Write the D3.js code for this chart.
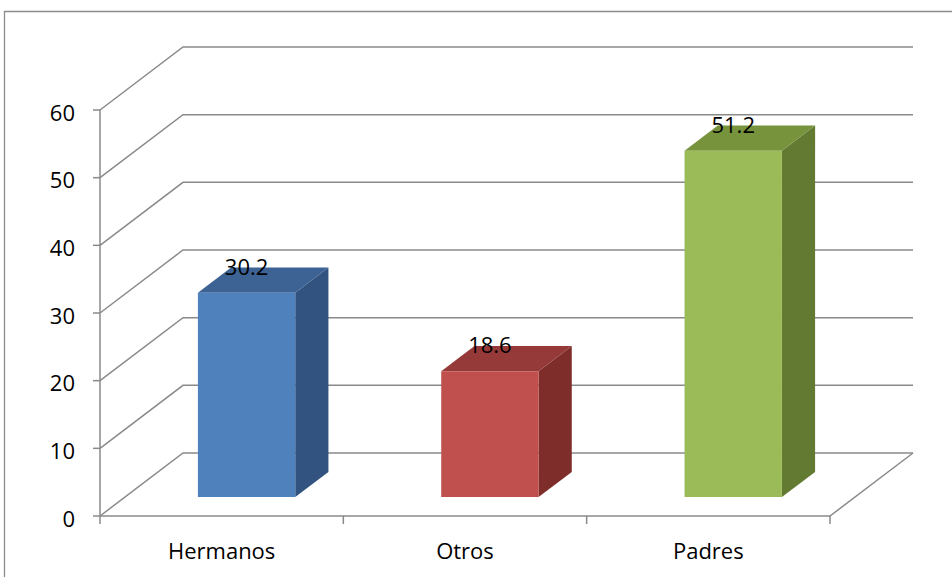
<!DOCTYPE html>
<html>
<head>
<meta charset="utf-8">
<script src="https://cdn.jsdelivr.net/npm/d3@7"></script>
<style>
  body { margin: 0; background: #fff; }
  svg { display: block; }
</style>
</head>
<body>
<div id="chart"></div>
<script>
const categories = ["Hermanos", "Otros", "Padres"];
const values = [30.2, 18.6, 51.2];
const yTicks = [0, 10, 20, 30, 40, 50, 60];

const frontColors = ["#4f81bd", "#c0504d", "#9bbb59"];
const topColors = ["#3c6394", "#953a38", "#77933c"];
const sideColors = ["#32537f", "#7e2d2b", "#637a32"];

const width = 952, height = 577;
const depthX = 83, depthY = 63; // offset of the back wall
const gridColor = "#8a8a8a";

const svg = d3.select("#chart").append("svg")
    .attr("width", width)
    .attr("height", height);

// outer frame
svg.append("path")
    .attr("d", `M4.5,${height} V11.5 H${width}`)
    .attr("fill", "none")
    .attr("stroke", "#8c8c8c")
    .attr("stroke-width", 1.3);

const xScale = d3.scaleBand()
    .domain(categories)
    .range([100, 830])
    .paddingInner(0.6)
    .paddingOuter(0.3);

const step = xScale.step();
const x0 = 100, x1 = 830;

const yScale = d3.scaleLinear()
    .domain([0, 60])
    .range([516, 110]);

// project a point at depth z (0 = front, 1 = back)
function px(x, z) { return x + z * depthX; }
function py(y, z) { return y - z * depthY; }

const grid = svg.append("g")
    .attr("fill", "none")
    .attr("stroke", gridColor)
    .attr("stroke-width", 1.5);

// back wall gridlines + side wall diagonals
yTicks.forEach(t => {
    const yf = yScale(t);
    grid.append("path")
        .attr("d", `M${x0},${yf} L${px(x0, 1)},${py(yf, 1)} L${px(x1, 1)},${py(yf, 1)}`);
});

// floor right edge and front edge
grid.append("path")
    .attr("d", `M${x0},${yScale(0)} L${x1},${yScale(0)} L${px(x1, 1)},${py(yScale(0), 1)}`);

// y axis line and ticks
grid.append("path")
    .attr("d", `M${x0},${yScale(60)} V${yScale(0)}`);
yTicks.forEach(t => {
    grid.append("path").attr("d", `M${x0 - 7},${yScale(t)} H${x0}`);
});

// category ticks
d3.range(categories.length + 1).forEach(i => {
    const x = x0 + i * step;
    grid.append("path").attr("d", `M${x},${yScale(0)} V${yScale(0) + 8}`);
});

const font = "'Open Sans', 'Noto Sans', sans-serif";

// y tick labels
svg.append("g").selectAll("text")
    .data(yTicks)
    .join("text")
    .attr("x", 75)
    .attr("y", d => yScale(d) + 10.5)
    .attr("text-anchor", "end")
    .style("font-family", font)
    .style("font-size", "22px")
    .attr("fill", "#000")
    .text(d => d);

// category labels
svg.append("g").selectAll("text")
    .data(categories)
    .join("text")
    .attr("x", d => x0 + (categories.indexOf(d) + 0.5) * step)
    .attr("y", 559)
    .attr("text-anchor", "middle")
    .style("font-family", font)
    .style("font-size", "22px")
    .attr("fill", "#000")
    .text(d => d);

// bars (z from 0.3 to 0.7)
const zf = 0.3, zb = 0.7;
const bars = svg.append("g");
categories.forEach((c, i) => {
    const xl = xScale(c), xr = xl + xScale.bandwidth();
    const yb = yScale(0), yt = yScale(values[i]);
    const pt = (x, y, z) => `${px(x, z)},${py(y, z)}`;

    // side face
    bars.append("polygon")
        .attr("points", [pt(xr, yb, zf), pt(xr, yb, zb), pt(xr, yt, zb), pt(xr, yt, zf)].join(" "))
        .attr("fill", sideColors[i]);
    // top face
    bars.append("polygon")
        .attr("points", [pt(xl, yt, zf), pt(xr, yt, zf), pt(xr, yt, zb), pt(xl, yt, zb)].join(" "))
        .attr("fill", topColors[i]);
    // front face
    bars.append("polygon")
        .attr("points", [pt(xl, yb, zf), pt(xr, yb, zf), pt(xr, yt, zf), pt(xl, yt, zf)].join(" "))
        .attr("fill", frontColors[i]);

    // value label
    bars.append("text")
        .attr("x", px((xl + xr) / 2, zf))
        .attr("y", py(yt, zf) - 18)
        .attr("text-anchor", "middle")
        .style("font-family", font)
        .style("font-size", "22px")
        .attr("fill", "#000")
        .text(values[i]);
});
</script>
</body>
</html>
